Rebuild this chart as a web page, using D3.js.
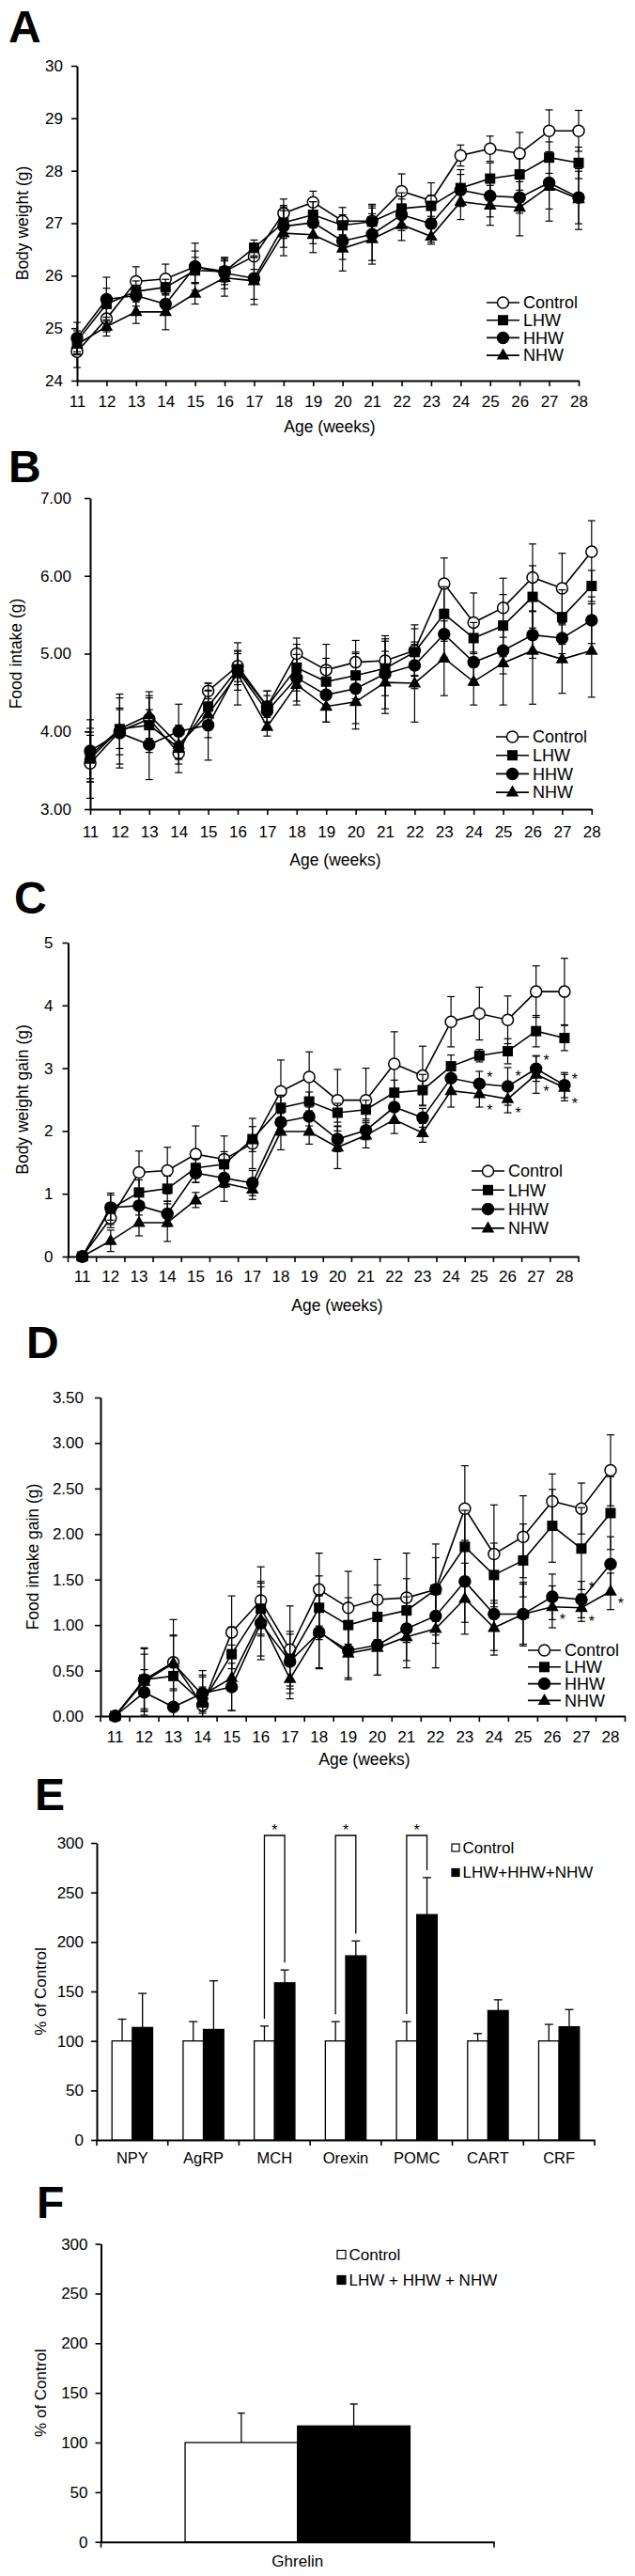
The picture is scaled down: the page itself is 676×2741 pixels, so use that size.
<!DOCTYPE html>
<html>
<head>
<meta charset="utf-8">
<script src="https://cdn.jsdelivr.net/npm/d3@7"></script>
<style>
  body { margin: 0; background: #fff; }
</style>
</head>
<body>
<script>
// ── Data ──────────────────────────────────────────────────────────────────────
const weeks = [11, 12, 13, 14, 15, 16, 17, 18, 19, 20, 21, 22, 23, 24, 25, 26, 27, 28];
const groupNames = ["Control", "LHW", "HHW", "NHW"];

// A: body weight (g)
const bwControl = [24.55, 25.18, 25.89, 25.94, 26.17, 26.08, 26.37, 27.19, 27.40, 27.04, 27.04, 27.61, 27.43, 28.29, 28.42, 28.33, 28.76, 28.76];
const bwLHW     = [24.75, 25.46, 25.70, 25.78, 26.10, 26.08, 26.53, 27.01, 27.16, 26.96, 27.03, 27.28, 27.33, 27.67, 27.85, 27.93, 28.25, 28.15];
const bwHHW     = [24.81, 25.55, 25.62, 25.46, 26.17, 26.05, 25.95, 26.94, 27.01, 26.66, 26.79, 27.16, 26.99, 27.63, 27.52, 27.49, 27.77, 27.49];
const bwNHW     = [24.69, 25.03, 25.31, 25.31, 25.66, 25.96, 25.90, 26.81, 26.78, 26.52, 26.70, 26.97, 26.75, 27.41, 27.34, 27.30, 27.70, 27.46];
const bwControlSem = [0.30, 0.25, 0.28, 0.28, 0.30, 0.20, 0.25, 0.27, 0.21, 0.26, 0.32, 0.33, 0.34, 0.20, 0.24, 0.40, 0.40, 0.39];
const bwLHWSem     = [0.20, 0.30, 0.20, 0.15, 0.25, 0.25, 0.15, 0.30, 0.25, 0.20, 0.30, 0.30, 0.20, 0.35, 0.30, 0.30, 0.30, 0.30];
const bwHHWSem     = [0.30, 0.42, 0.20, 0.20, 0.45, 0.30, 0.40, 0.40, 0.40, 0.35, 0.50, 0.30, 0.35, 0.30, 0.40, 0.30, 0.50, 0.50];
const bwNHWSem     = [0.20, 0.18, 0.22, 0.34, 0.20, 0.35, 0.45, 0.43, 0.34, 0.43, 0.48, 0.30, 0.15, 0.34, 0.38, 0.54, 0.66, 0.58];

// B: food intake (g)
const fiControl = [3.59, 4.00, 4.16, 3.72, 4.52, 4.84, 4.32, 5.00, 4.79, 4.89, 4.91, 5.04, 5.90, 5.40, 5.59, 5.98, 5.84, 6.31];
const fiLHW     = [3.65, 4.03, 4.08, 3.79, 4.32, 4.80, 4.32, 4.82, 4.64, 4.72, 4.81, 5.02, 5.51, 5.20, 5.36, 5.73, 5.47, 5.87];
const fiHHW     = [3.75, 3.98, 3.83, 4.00, 4.08, 4.78, 4.26, 4.69, 4.47, 4.55, 4.74, 4.85, 5.25, 4.89, 5.04, 5.24, 5.20, 5.43];
const fiNHW     = [3.69, 4.03, 4.21, 3.83, 4.22, 4.74, 4.06, 4.60, 4.32, 4.38, 4.63, 4.62, 4.94, 4.64, 4.88, 5.04, 4.93, 5.04];
const fiControlSem = [0.45, 0.30, 0.30, 0.25, 0.10, 0.20, 0.20, 0.20, 0.33, 0.28, 0.32, 0.33, 0.33, 0.38, 0.38, 0.43, 0.45, 0.40];
const fiLHWSem     = [0.30, 0.45, 0.35, 0.15, 0.30, 0.20, 0.20, 0.30, 0.30, 0.30, 0.35, 0.30, 0.35, 0.20, 0.40, 0.40, 0.35, 0.20];
const fiHHWSem     = [0.40, 0.45, 0.45, 0.35, 0.45, 0.25, 0.20, 0.30, 0.35, 0.45, 0.45, 0.30, 0.30, 0.30, 0.30, 0.30, 0.20, 0.30];
const fiNHWSem     = [0.30, 0.25, 0.30, 0.25, 0.30, 0.40, 0.12, 0.26, 0.20, 0.35, 0.40, 0.50, 0.48, 0.30, 0.54, 0.69, 0.44, 0.60];

// C: body weight gain (g)
const bgControl = [0, 0.61, 1.34, 1.37, 1.63, 1.55, 1.80, 2.63, 2.86, 2.49, 2.49, 3.07, 2.88, 3.74, 3.87, 3.77, 4.22, 4.22];
const bgLHW     = [0, 0.76, 1.02, 1.08, 1.41, 1.47, 1.87, 2.37, 2.47, 2.29, 2.34, 2.61, 2.65, 3.03, 3.20, 3.27, 3.59, 3.48];
const bgHHW     = [0, 0.78, 0.81, 0.68, 1.33, 1.25, 1.17, 2.14, 2.23, 1.87, 2.01, 2.38, 2.21, 2.84, 2.75, 2.71, 2.99, 2.73];
const bgNHW     = [0, 0.25, 0.54, 0.54, 0.90, 1.17, 1.07, 1.99, 1.99, 1.74, 1.93, 2.18, 1.97, 2.64, 2.59, 2.51, 2.90, 2.69];
const bgControlSem = [0, 0.15, 0.34, 0.37, 0.45, 0.37, 0.40, 0.50, 0.40, 0.49, 0.51, 0.51, 0.47, 0.40, 0.42, 0.38, 0.41, 0.53];
const bgLHWSem     = [0, 0.25, 0.20, 0.20, 0.15, 0.20, 0.20, 0.20, 0.15, 0.15, 0.15, 0.20, 0.25, 0.18, 0.10, 0.20, 0.25, 0.20];
const bgHHWSem     = [0, 0.20, 0.15, 0.20, 0.15, 0.15, 0.20, 0.20, 0.15, 0.20, 0.15, 0.20, 0.15, 0.20, 0.20, 0.30, 0.20, 0.20];
const bgNHWSem     = [0, 0.17, 0.21, 0.30, 0.12, 0.29, 0.16, 0.29, 0.20, 0.34, 0.20, 0.22, 0.15, 0.26, 0.21, 0.22, 0.30, 0.21];
const bgStars = [[25, 2.90], [25, 2.38], [26, 2.92], [26, 2.34], [27, 3.18], [27, 2.68], [28, 2.87], [28, 2.49]];

// D: food intake gain (g)
const fgControl = [0, 0.40, 0.59, 0.12, 0.92, 1.27, 0.73, 1.39, 1.19, 1.28, 1.30, 1.39, 2.28, 1.78, 1.97, 2.36, 2.28, 2.70];
const fgLHW     = [0, 0.40, 0.44, 0.15, 0.68, 1.18, 0.63, 1.19, 1.00, 1.09, 1.16, 1.39, 1.86, 1.55, 1.71, 2.09, 1.84, 2.23];
const fgHHW     = [0, 0.26, 0.10, 0.25, 0.32, 1.02, 0.60, 0.92, 0.72, 0.78, 0.96, 1.10, 1.48, 1.12, 1.12, 1.31, 1.28, 1.67];
const fgNHW     = [0, 0.38, 0.58, 0.23, 0.42, 1.06, 0.41, 0.93, 0.69, 0.75, 0.87, 0.96, 1.29, 0.97, 1.12, 1.20, 1.19, 1.37];
const fgControlSem = [0, 0.34, 0.47, 0.20, 0.40, 0.37, 0.48, 0.40, 0.40, 0.44, 0.49, 0.50, 0.47, 0.54, 0.45, 0.30, 0.28, 0.39];
const fgLHWSem     = [0, 0.35, 0.45, 0.35, 0.30, 0.30, 0.30, 0.35, 0.30, 0.35, 0.35, 0.35, 0.40, 0.35, 0.40, 0.40, 0.45, 0.40];
const fgHHWSem     = [0, 0.25, 0.20, 0.20, 0.26, 0.40, 0.30, 0.40, 0.30, 0.33, 0.35, 0.30, 0.45, 0.40, 0.35, 0.25, 0.20, 0.30];
const fgNHWSem     = [0, 0.30, 0.30, 0.20, 0.36, 0.40, 0.22, 0.40, 0.29, 0.30, 0.34, 0.43, 0.39, 0.30, 0.33, 0.23, 0.15, 0.20];
const fgStars = [[26, 1.10], [27, 1.45], [27, 1.08], [28, 1.27]];

// E: hypothalamic peptides, % of control
const eCategories  = ["NPY", "AgRP", "MCH", "Orexin", "POMC", "CART", "CRF"];
const eControl     = [100, 100, 100, 100, 100, 100, 100];
const eControlSem  = [22, 19.5, 15, 19.5, 19.5, 7.5, 16.7];
const eTreated     = [113.6, 111.6, 158.7, 186, 227.6, 130.7, 114.3];
const eTreatedSem  = [34.4, 49.1, 13, 15, 37.4, 10.9, 17.4];
const eSignificant = ["MCH", "Orexin", "POMC"];

// F: ghrelin, % of control
const fCategories = ["Ghrelin"];
const fControl    = [100];
const fControlSem = [29.6];
const fTreated    = [116.7];
const fTreatedSem = [22.1];

const pctTicks = [0, 50, 100, 150, 200, 250, 300];

// ── Drawing ───────────────────────────────────────────────────────────────────
const FONT = "'Liberation Sans', Arial, Helvetica, sans-serif";
const svg = d3.select("body").append("svg")
  .attr("width", 676).attr("height", 2741)
  .attr("font-family", FONT);
svg.append("rect").attr("width", 676).attr("height", 2741).attr("fill", "#fff");

function styleAxis(a, fs) {
  a.select(".domain").attr("stroke", "#000").attr("stroke-width", 2);
  a.selectAll(".tick line").attr("stroke", "#000").attr("stroke-width", 1.6);
  a.selectAll("text").attr("font-size", fs).attr("font-family", FONT).attr("fill", "#000");
}

function drawMarker(g, kind, cx, cy) {
  if (kind === "Control" || kind === "HHW") {
    g.append("circle").attr("cx", cx).attr("cy", cy).attr("r", 6)
      .attr("fill", kind === "Control" ? "#fff" : "#000")
      .attr("stroke", "#000").attr("stroke-width", 1.5);
  } else if (kind === "LHW") {
    g.append("rect").attr("x", cx - 5.5).attr("y", cy - 5.5)
      .attr("width", 11).attr("height", 11).attr("fill", "#000");
  } else {
    g.append("path")
      .attr("d", `M${cx},${cy - 7.5}L${cx + 6.8},${cy + 4.5}L${cx - 6.8},${cy + 4.5}Z`)
      .attr("fill", "#000");
  }
}

function panelLetter(letter, x, y) {
  svg.append("text").attr("x", x).attr("y", y)
    .attr("font-size", 48).attr("font-weight", "bold").text(letter);
}

function yTitle(text, x, y, fs) {
  svg.append("text").attr("transform", `translate(${x},${y}) rotate(-90)`)
    .attr("text-anchor", "middle").attr("dy", "0.35em")
    .attr("font-size", fs).text(text);
}

function drawLinePanel(p) {
  const g = svg.append("g");
  const y = d3.scaleLinear().domain(p.yDomain).range([p.yBot, p.yTop]);
  let x, xc;
  if (p.band) {
    x = d3.scaleBand().domain(weeks).range([p.x0, p.x1]);
    xc = w => x(w) + x.bandwidth() / 2;
  } else {
    x = d3.scalePoint().domain(weeks).range([p.x0, p.x1]);
    xc = w => x(w);
  }

  panelLetter(p.letter, p.letterX, p.letterY);

  // axes
  const ya = g.append("g").attr("transform", `translate(${p.x0},0)`)
    .call(d3.axisLeft(y).tickValues(p.yTicks).tickFormat(d3.format(p.fmt))
      .tickSizeInner(6).tickSizeOuter(0).tickPadding(p.yPad));
  styleAxis(ya, 17);

  const xa = g.append("g").attr("transform", `translate(0,${p.yBot})`);
  if (p.band) {
    xa.call(d3.axisBottom(x).tickSize(0).tickPadding(p.xPad));
    styleAxis(xa, 17);
    xa.selectAll(".bound")
      .data(weeks.map(w => x(w)).concat([x.range()[1]]))
      .join("line").attr("class", "bound")
      .attr("x1", d => d).attr("x2", d => d).attr("y1", 0).attr("y2", 6)
      .attr("stroke", "#000").attr("stroke-width", 1.6);
  } else {
    xa.call(d3.axisBottom(x).tickSizeInner(6).tickSizeOuter(0).tickPadding(p.xPad));
    styleAxis(xa, 17);
  }

  yTitle(p.yTitle, p.yTitleX, (p.yTop + p.yBot) / 2, 17.5);
  g.append("text").attr("x", p.xTitleX).attr("y", p.xTitleY).attr("dy", "0.35em")
    .attr("text-anchor", "middle").attr("font-size", 17.5).text("Age (weeks)");

  // series (drawn in legend order, later series on top)
  const yMin = p.yDomain[0];
  const line = d3.line().x(d => xc(d.w)).y(d => y(d.v));
  p.series.forEach((s, si) => {
    const pts = weeks.map((w, i) => ({ w, v: s.values[i], e: s.sem[i] }));
    const sg = g.append("g");
    pts.filter(d => d.e > 0).forEach(d => {
      const cx = xc(d.w), yh = y(d.v + d.e);
      const low = d.v - d.e;
      const yl = y(Math.max(low, yMin));
      sg.append("line").attr("x1", cx).attr("x2", cx).attr("y1", yl).attr("y2", yh)
        .attr("stroke", "#000").attr("stroke-width", 1.2);
      const caps = low >= yMin ? [yl, yh] : [yh];
      caps.forEach(yy => sg.append("line")
        .attr("x1", cx - 4).attr("x2", cx + 4).attr("y1", yy).attr("y2", yy)
        .attr("stroke", "#000").attr("stroke-width", 1.2));
    });
    sg.append("path").datum(pts).attr("d", line)
      .attr("fill", "none").attr("stroke", "#000").attr("stroke-width", 1.6);
    pts.forEach(d => drawMarker(sg, groupNames[si], xc(d.w), y(d.v)));
  });

  // significance stars
  (p.stars || []).forEach(([w, v]) => {
    g.append("text").attr("x", xc(w) + 11).attr("y", y(v)).attr("dy", "0.57em")
      .attr("text-anchor", "middle").attr("font-size", 16).text("*");
  });

  // legend
  const L = p.legend;
  groupNames.forEach((name, i) => {
    const ly = L.y0 + i * L.dy;
    g.append("line").attr("x1", L.x0).attr("x2", L.x0 + 35).attr("y1", ly).attr("y2", ly)
      .attr("stroke", "#000").attr("stroke-width", 1.6);
    drawMarker(g, name, L.x0 + 17.5, ly);
    g.append("text").attr("x", L.x0 + 39).attr("y", ly).attr("dy", "0.35em")
      .attr("font-size", 18).text(name);
  });
}

function drawBarPanel(p) {
  const g = svg.append("g");
  const y = d3.scaleLinear().domain([0, 300]).range([p.yBot, p.yTop]);
  const x = d3.scaleBand().domain(p.cats).range([p.x0, p.x1])
    .paddingInner(0.428).paddingOuter(0.214);
  const sub = d3.scaleBand().domain(["c", "t"]).range([0, x.bandwidth()]);

  panelLetter(p.letter, p.letterX, p.letterY);

  const ya = g.append("g").attr("transform", `translate(${p.x0},0)`)
    .call(d3.axisLeft(y).tickValues(pctTicks).tickFormat(d3.format("d"))
      .tickSizeInner(6).tickSizeOuter(0).tickPadding(8));
  styleAxis(ya, 17);

  const xa = g.append("g").attr("transform", `translate(0,${p.yBot})`)
    .call(d3.axisBottom(x).tickSize(0).tickPadding(p.xPad));
  styleAxis(xa, p.catFont);
  const step = x.step(), edge = step * x.paddingInner() / 2;
  xa.selectAll(".bound")
    .data(p.cats.map(c => x(c) - edge).concat([x.range()[1]]))
    .join("line").attr("class", "bound")
    .attr("x1", d => d).attr("x2", d => d).attr("y1", 0).attr("y2", 6)
    .attr("stroke", "#000").attr("stroke-width", 1.6);

  yTitle("% of Control", p.yTitleX, (p.yTop + p.yBot) / 2, 17);

  const rows = p.cats.map((c, i) => ({
    c, mc: p.control[i], ec: p.controlSem[i], mt: p.treated[i], et: p.treatedSem[i]
  }));

  rows.forEach(r => {
    const xcL = x(r.c) + sub("c"), xtL = x(r.c) + sub("t"), bw = sub.bandwidth();
    [[xcL, r.mc, r.ec], [xtL, r.mt, r.et]].forEach(([bx, m, e]) => {
      const cx = bx + bw / 2;
      g.append("line").attr("x1", cx).attr("x2", cx).attr("y1", y(m)).attr("y2", y(m + e))
        .attr("stroke", "#000").attr("stroke-width", 1.3);
      g.append("line").attr("x1", cx - p.cap).attr("x2", cx + p.cap)
        .attr("y1", y(m + e)).attr("y2", y(m + e))
        .attr("stroke", "#000").attr("stroke-width", 1.3);
    });
    g.append("rect").attr("x", xcL).attr("y", y(r.mc)).attr("width", bw)
      .attr("height", y(0) - y(r.mc)).attr("fill", "#fff")
      .attr("stroke", "#000").attr("stroke-width", 1.3);
    g.append("rect").attr("x", xtL).attr("y", y(r.mt)).attr("width", bw)
      .attr("height", y(0) - y(r.mt)).attr("fill", "#000")
      .attr("stroke", "#000").attr("stroke-width", 1.3);

    if ((p.sig || []).includes(r.c)) {
      const a = xcL + bw / 2, b = xtL + bw / 2, top = y(p.bracketLevel);
      g.append("path")
        .attr("d", `M${a},${y(r.mc + r.ec + 7.5)}V${top}H${b}V${y(r.mt + r.et + 7.5)}`)
        .attr("fill", "none").attr("stroke", "#000").attr("stroke-width", 1.3);
      g.append("text").attr("x", (a + b) / 2).attr("y", y(p.bracketLevel + 9)).attr("dy", "0.57em")
        .attr("text-anchor", "middle").attr("font-size", 16).text("*");
    }
  });

  // legend
  const L = p.legend;
  L.labels.forEach((lab, i) => {
    const ly = L.y0 + i * L.dy;
    g.append("rect").attr("x", L.x0).attr("y", ly - L.box / 2).attr("width", L.box).attr("height", L.box)
      .attr("fill", i === 0 ? "#fff" : "#000").attr("stroke", "#000").attr("stroke-width", 1.2);
    g.append("text").attr("x", L.x0 + L.box + 3.5).attr("y", ly).attr("dy", "0.35em")
      .attr("font-size", 17).text(lab);
  });
}

// ── Panels ────────────────────────────────────────────────────────────────────
drawLinePanel({
  letter: "A", letterX: 9, letterY: 45,
  x0: 82, x1: 616, yTop: 70, yBot: 405, band: false,
  yDomain: [24, 30], yTicks: [24, 25, 26, 27, 28, 29, 30], fmt: "d", yPad: 9, xPad: 10,
  yTitle: "Body weight (g)", yTitleX: 24, xTitleX: 351, xTitleY: 454,
  series: [
    { values: bwControl, sem: bwControlSem }, { values: bwLHW, sem: bwLHWSem },
    { values: bwHHW, sem: bwHHWSem }, { values: bwNHW, sem: bwNHWSem }],
  legend: { x0: 518, y0: 322, dy: 18.7 }
});

drawLinePanel({
  letter: "B", letterX: 9, letterY: 513,
  x0: 96, x1: 629.8, yTop: 530, yBot: 861, band: false,
  yDomain: [3, 7], yTicks: [3, 4, 5, 6, 7], fmt: ".2f", yPad: 14, xPad: 12,
  yTitle: "Food intake (g)", yTitleX: 17, xTitleX: 357, xTitleY: 915,
  series: [
    { values: fiControl, sem: fiControlSem }, { values: fiLHW, sem: fiLHWSem },
    { values: fiHHW, sem: fiHHWSem }, { values: fiNHW, sem: fiNHWSem }],
  legend: { x0: 528, y0: 784, dy: 19.7 }
});

drawLinePanel({
  letter: "C", letterX: 15, letterY: 972,
  x0: 72.5, x1: 616, yTop: 1003, yBot: 1337, band: true,
  yDomain: [0, 5], yTicks: [0, 1, 2, 3, 4, 5], fmt: "d", yPad: 10, xPad: 15,
  yTitle: "Body weight gain (g)", yTitleX: 24, xTitleX: 359, xTitleY: 1389,
  series: [
    { values: bgControl, sem: bgControlSem }, { values: bgLHW, sem: bgLHWSem },
    { values: bgHHW, sem: bgHHWSem }, { values: bgNHW, sem: bgNHWSem }],
  stars: bgStars,
  legend: { x0: 502, y0: 1246, dy: 20.3 }
});

drawLinePanel({
  letter: "D", letterX: 28, letterY: 1445,
  x0: 107, x1: 665.5, yTop: 1487, yBot: 1826, band: true,
  yDomain: [0, 3.5], yTicks: [0, 0.5, 1, 1.5, 2, 2.5, 3, 3.5], fmt: ".2f", yPad: 12, xPad: 16,
  yTitle: "Food intake gain (g)", yTitleX: 35, xTitleX: 388, xTitleY: 1872,
  series: [
    { values: fgControl, sem: fgControlSem }, { values: fgLHW, sem: fgLHWSem },
    { values: fgHHW, sem: fgHHWSem }, { values: fgNHW, sem: fgNHWSem }],
  stars: fgStars,
  legend: { x0: 562, y0: 1756, dy: 17.8 }
});

drawBarPanel({
  letter: "E", letterX: 37, letterY: 1926,
  x0: 103, x1: 633, yTop: 1961, yBot: 2277, xPad: 13.5, catFont: 16.5, cap: 4.5,
  cats: eCategories, control: eControl, controlSem: eControlSem,
  treated: eTreated, treatedSem: eTreatedSem,
  sig: eSignificant, bracketLevel: 307.6, yTitleX: 43,
  legend: { x0: 481, y0: 1966, dy: 26.5, box: 8, labels: ["Control", "LHW+HHW+NHW"] }
});

drawBarPanel({
  letter: "F", letterX: 39, letterY: 2360,
  x0: 107.5, x1: 526, yTop: 2387.6, yBot: 2704.7, xPad: 14, catFont: 17, cap: 4,
  cats: fCategories, control: fControl, controlSem: fControlSem,
  treated: fTreated, treatedSem: fTreatedSem,
  yTitleX: 43,
  legend: { x0: 359, y0: 2399, dy: 27, box: 9, labels: ["Control", "LHW + HHW + NHW"] }
});
</script>
</body>
</html>
